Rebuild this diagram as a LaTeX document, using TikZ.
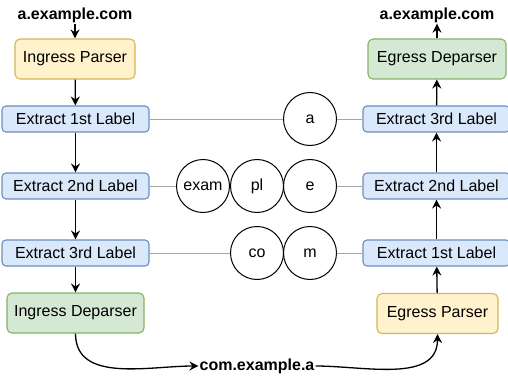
\documentclass[tikz,border=0pt]{standalone}
\usepackage{fontspec}
\setmainfont{Liberation Sans}
\usepackage{tikz}
\usetikzlibrary{arrows.meta}
\usepackage{xcolor}
\definecolor{parsefill}{HTML}{FFF2CC}
\definecolor{parsedraw}{HTML}{D6B656}
\definecolor{labfill}{HTML}{DAE8FC}
\definecolor{labdraw}{HTML}{6C8EBF}
\definecolor{depfill}{HTML}{D5E8D4}
\definecolor{depdraw}{HTML}{82B366}
\definecolor{linkgray}{HTML}{A6A6A6}

\begin{document}
\begin{tikzpicture}[x=1pt,y=-1pt,>={Stealth[length=9pt,width=9pt,inset=3pt]},
  every node/.style={font=\fontsize{16}{19}\selectfont},
  flow/.style={->,line width=1.3pt},
  link/.style={linkgray,line width=1pt},
  parsebox/.style={draw=parsedraw,fill=parsefill,rounded corners=5pt,line width=1.1pt,minimum width=120pt,minimum height=40pt},
  depbox/.style={draw=depdraw,fill=depfill,rounded corners=5pt,line width=1.1pt,minimum height=40pt},
  labbox/.style={draw=labdraw,fill=labfill,rounded corners=4pt,line width=1.1pt,minimum width=147pt,minimum height=26pt},
  piece/.style={draw,circle,line width=1pt,minimum size=53pt,inner sep=0pt},
  hostname/.style={font=\fontsize{16}{19}\selectfont\bfseries,inner sep=1pt}]
\useasboundingbox (0,0) rectangle (508,377);
% ingress side
\node[hostname] (inName) at (75,15) {a.example.com};
\node[parsebox] (ipars) at (75,59) {Ingress Parser};
\node[labbox] (iext1) at (75.5,119) {Extract 1st Label};
\node[labbox] (iext2) at (75.5,186) {Extract 2nd Label};
\node[labbox] (iext3) at (75.5,253) {Extract 3rd Label};
\node[depbox,minimum width=137pt] (idep) at (75.5,313) {Ingress Deparser};
\draw[flow] (inName) -- (ipars);
\draw[flow] (ipars) -- (iext1);
\draw[flow] (iext1) -- (iext2);
\draw[flow] (iext2) -- (iext3);
\draw[flow] (iext3) -- (idep);
% egress side
\node[hostname] (outName) at (437,15) {a.example.com};
\node[depbox,minimum width=138pt] (edep) at (437,59) {Egress Deparser};
\node[labbox] (eext3) at (436.5,119) {Extract 3rd Label};
\node[labbox] (eext2) at (436.5,186) {Extract 2nd Label};
\node[labbox] (eext1) at (436.5,253) {Extract 1st Label};
\node[parsebox,minimum width=121pt] (epars) at (437.5,313.5) {Egress Parser};
\draw[flow] (epars) -- (eext1);
\draw[flow] (eext1) -- (eext2);
\draw[flow] (eext2) -- (eext3);
\draw[flow] (eext3) -- (edep);
\draw[flow] (edep) -- (outName);
% label pieces
\node[piece] (pa) at (310,119) {a};
\node[piece] (pexam) at (203,186) {exam};
\node[piece] (ppl) at (257,186) {pl};
\node[piece] (pe) at (310,186) {e};
\node[piece] (pco) at (257,253) {co};
\node[piece] (pm) at (310,253) {m};
\draw[link] (iext1) -- (pa);
\draw[link] (pa) -- (eext3);
\draw[link] (iext2) -- (pexam);
\draw[link] (pe) -- (eext2);
\draw[link] (iext3) -- (pco);
\draw[link] (pm) -- (eext1);
% reversed name between the two
\node[hostname] (midName) at (257,366) {com.example.a};
\draw[flow] (idep.south) to[out=-90,in=180] (midName.west);
\draw[flow] (midName.east) to[out=0,in=-90] (epars.south);
\end{tikzpicture}
\end{document}
